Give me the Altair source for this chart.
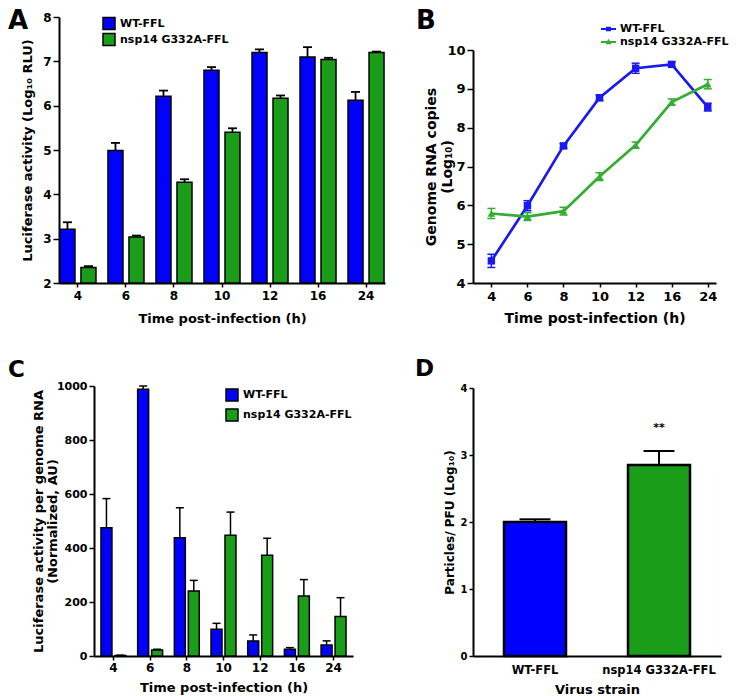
import altair as alt
import pandas as pd

FONT = "DejaVu Sans"
times = ["4", "6", "8", "10", "12", "16", "24"]
strains = ["WT-FFL", "nsp14 G332A-FFL"]

# Panel A: luciferase activity (log10 RLU), mean and SEM
a_wt = [3.21, 4.99, 6.21, 6.80, 7.20, 7.10, 6.12]
a_wt_err = [0.16, 0.17, 0.13, 0.07, 0.07, 0.22, 0.19]
a_mut = [2.35, 3.04, 4.27, 5.40, 6.17, 7.04, 7.20]
a_mut_err = [0.03, 0.03, 0.07, 0.09, 0.06, 0.04, 0.02]

# Panel B: genome RNA copies (log10)
b_wt = [4.57, 5.99, 7.53, 8.77, 9.53, 9.63, 8.53]
b_wt_err = [0.17, 0.13, 0.06, 0.07, 0.13, 0.06, 0.10]
b_mut = [5.79, 5.71, 5.85, 6.74, 7.55, 8.66, 9.12]
b_mut_err = [0.13, 0.10, 0.10, 0.10, 0.08, 0.08, 0.12]

# Panel C: luciferase activity per genome RNA (AU)
c_wt = [475, 988, 438, 99, 56, 25, 41]
c_wt_err = [108, 12, 111, 22, 22, 6, 15]
c_mut = [2, 22, 241, 447, 373, 222, 146]
c_mut_err = [1, 3, 39, 86, 63, 61, 70]

# Panel D: particles / PFU (log10)
d_val = [2.00, 2.85]
d_err = [0.04, 0.21]
sig_strain = ["nsp14 G332A-FFL"]
sig_y = [3.41]
sig_text = ["**"]

BLUE = "#0000FF"
GREEN = "#1A9E1A"
B_BLUE = "#1A1AF0"
B_GREEN = "#33AD33"


def long_df(wt, wt_err, mut, mut_err):
    rows = []
    for s, vals, errs in ((strains[0], wt, wt_err), (strains[1], mut, mut_err)):
        for t, v, e in zip(times, vals, errs):
            rows.append({"time": t, "strain": s, "value": v,
                         "upper": v + e, "lower": v - e})
    return pd.DataFrame(rows)


def letter(txt, size, dx, offset):
    return alt.TitleParams(text=txt, anchor="start", frame="group", fontSize=size,
                           font=FONT, fontWeight="bold", color="black", dx=dx,
                           offset=offset, baseline="alphabetic")


def bar_legend(x, y, size, row_pad):
    return alt.Legend(title=None, orient="none", legendX=x, legendY=y,
                      symbolType="square", symbolSize=144, symbolStrokeColor="black",
                      symbolStrokeWidth=1.5, symbolOpacity=1, labelFontSize=size,
                      labelFont=FONT, labelFontWeight="bold", labelColor="black",
                      labelOffset=4, rowPadding=row_pad, padding=0)


# ---------------- Panel A ----------------
dfA = long_df(a_wt, a_wt_err, a_mut, a_mut_err)
xA = alt.X("time:N", sort=times,
           scale=alt.Scale(paddingInner=0.25, paddingOuter=0.02),
           axis=alt.Axis(title="Time post-infection (h)", labelAngle=0, labelFontSize=12,
                         titleFontSize=13, tickSize=4, labelPadding=3, titlePadding=11,
                         grid=False))
xoA = alt.XOffset("strain:N", sort=strains,
                  scale=alt.Scale(paddingInner=0.286, paddingOuter=0))
yA = alt.Y("value:Q", scale=alt.Scale(domain=[2, 8], nice=False, zero=False),
           axis=alt.Axis(title="Luciferase activity (Log₁₀ RLU)", values=[2, 3, 4, 5, 6, 7, 8],
                         labelFontSize=12, titleFontSize=13, tickSize=6, labelPadding=2,
                         titlePadding=8, grid=False, format="d"))
colA = alt.Color("strain:N", sort=strains,
                 scale=alt.Scale(domain=strains, range=[BLUE, GREEN]),
                 legend=bar_legend(43, -0.5, 11, -2))
baseA = alt.Chart(dfA)
panelA = alt.layer(
    baseA.mark_bar(stroke="black", strokeWidth=1.5, opacity=1).encode(
        x=xA, xOffset=xoA, y=yA, y2=alt.datum(2), color=colA),
    baseA.mark_rule(color="black", strokeWidth=1.8).encode(
        x=xA, xOffset=xoA, y="value:Q", y2="upper:Q"),
    baseA.mark_tick(color="black", thickness=1.8, size=9, opacity=1).encode(
        x=xA, xOffset=xoA, y="upper:Q"),
).properties(width=326, height=266, title=letter("A", 26, -51, -44))

# ---------------- Panel B ----------------
dfB = long_df(b_wt, b_wt_err, b_mut, b_mut_err)
xB = alt.X("time:N", sort=times,
           scale=alt.Scale(type="point", padding=0.369, align=0.69),
           axis=alt.Axis(title="Time post-infection (h)", labelAngle=0, labelFontSize=13,
                         titleFontSize=14, tickSize=4, labelPadding=3, titlePadding=8,
                         grid=False))
yB = alt.Y("value:Q", scale=alt.Scale(domain=[4, 10], range=[266, 33], nice=False, zero=False),
           axis=alt.Axis(title=["Genome RNA copies", "(Log₁₀)"], values=[4, 5, 6, 7, 8, 9, 10],
                         labelFontSize=13, titleFontSize=14, tickSize=6, labelPadding=2,
                         titleX=-35, titleLineHeight=16, grid=False, format="d"))
colB = alt.Color("strain:N", sort=strains,
                 scale=alt.Scale(domain=strains, range=[B_BLUE, B_GREEN]), legend=None)
PATH_SQ = "M-1,-0.12L1,-0.12L1,0.12L-1,0.12Z M-0.33,-0.3L0.33,-0.3L0.33,0.3L-0.33,0.3Z"
PATH_TRI = "M-1,-0.12L1,-0.12L1,0.12L-1,0.12Z M0,-0.42L0.4,0.3L-0.4,0.3Z"
legB = alt.Legend(title=None, orient="none", legendX=128, legendY=4.5, symbolSize=225,
                  symbolStrokeWidth=0, labelFontSize=11, labelFont=FONT,
                  labelFontWeight="bold", labelColor="black", labelOffset=4,
                  rowPadding=0, padding=0)
baseB = alt.Chart(dfB)
panelB = alt.layer(
    baseB.mark_line(strokeWidth=2.7).encode(x=xB, y=yB, color=colB),
    baseB.mark_rule(strokeWidth=1.5).encode(x=xB, y="lower:Q", y2="upper:Q", color=colB),
    baseB.mark_tick(thickness=1.5, size=8, opacity=1).encode(x=xB, y="lower:Q", color=colB),
    baseB.mark_tick(thickness=1.5, size=8, opacity=1).encode(x=xB, y="upper:Q", color=colB),
    baseB.mark_point(shape="square", filled=True, size=55, opacity=1).encode(
        x=xB, y="value:Q", color=colB).transform_filter(alt.datum.strain == strains[0]),
    baseB.mark_point(shape="triangle-up", filled=True, size=60, opacity=1).encode(
        x=xB, y="value:Q", color=colB).transform_filter(alt.datum.strain == strains[1]),
    baseB.mark_point(filled=True, opacity=1, size=0).encode(
        x=xB, y="value:Q",
        color=alt.Color("strain:N", sort=strains,
                        scale=alt.Scale(domain=strains, range=[B_BLUE, B_GREEN]), legend=legB),
        shape=alt.Shape("strain:N", sort=strains,
                        scale=alt.Scale(domain=strains, range=[PATH_SQ, PATH_TRI]), legend=legB),
    ),
).resolve_scale(color="independent", shape="independent").properties(
    width=243, height=266, title=letter("B", 26, -57, -38))

# ---------------- Panel C ----------------
dfC = long_df(c_wt, c_wt_err, c_mut, c_mut_err)
xC = alt.X("time:N", sort=times,
           scale=alt.Scale(range=[35, 294], paddingInner=0.32, paddingOuter=0.19),
           axis=alt.Axis(title="Time post-infection (h)", labelAngle=0, labelFontSize=12,
                         titleFontSize=13, tickSize=4, labelPadding=2, titlePadding=8,
                         grid=False))
xoC = alt.XOffset("strain:N", sort=strains,
                  scale=alt.Scale(paddingInner=0.214, paddingOuter=0))
yC = alt.Y("value:Q", scale=alt.Scale(domain=[0, 1000], nice=False),
           axis=alt.Axis(title=["Luciferase activity per genome RNA", "(Normalized, AU)"],
                         values=[0, 200, 400, 600, 800, 1000], offset=-35, format="d",
                         labelFontSize=11, titleFontSize=13, tickSize=5, labelPadding=2,
                         titlePadding=-3, titleLineHeight=14, grid=False))
colC = alt.Color("strain:N", sort=strains,
                 scale=alt.Scale(domain=strains, range=[BLUE, GREEN]),
                 legend=bar_legend(166, 2, 11, 2))
baseC = alt.Chart(dfC)
panelC = alt.layer(
    baseC.mark_bar(stroke="black", strokeWidth=1.5, opacity=1).encode(
        x=xC, xOffset=xoC, y=yC, color=colC),
    baseC.mark_rule(color="black", strokeWidth=1.5).encode(
        x=xC, xOffset=xoC, y="value:Q", y2="upper:Q"),
    baseC.mark_tick(color="black", thickness=1.5, size=8, opacity=1).encode(
        x=xC, xOffset=xoC, y="upper:Q"),
).properties(width=294, height=270, title=letter("C", 23, -51, -20))

# ---------------- Panel D ----------------
dfD = pd.DataFrame({"strain": strains, "value": d_val,
                    "upper": [v + e for v, e in zip(d_val, d_err)]})
dfS = pd.DataFrame({"strain": sig_strain, "y": sig_y, "text": sig_text})
xD = alt.X("strain:N", sort=strains,
           scale=alt.Scale(paddingInner=0.5, paddingOuter=0.25),
           axis=alt.Axis(title="Virus strain", labelAngle=0, labelFontSize=11.5,
                         titleFontSize=13, ticks=False, labelPadding=8, titlePadding=8,
                         grid=False))
yD = alt.Y("value:Q", scale=alt.Scale(domain=[0, 4], range=[270, 2], nice=False),
           axis=alt.Axis(title="Particles/ PFU (Log₁₀)", values=[0, 1, 2, 3, 4], format="d",
                         labelFontSize=10, titleFontSize=12, tickSize=4, labelPadding=2,
                         titlePadding=4, grid=False))
colD = alt.Color("strain:N", sort=strains,
                 scale=alt.Scale(domain=strains, range=[BLUE, GREEN]), legend=None)
baseD = alt.Chart(dfD)
panelD = alt.layer(
    baseD.mark_bar(stroke="black", strokeWidth=2.5, opacity=1).encode(x=xD, y=yD, color=colD),
    baseD.mark_rule(color="black", strokeWidth=2).encode(x=xD, y="value:Q", y2="upper:Q"),
    baseD.mark_tick(color="black", thickness=2, size=31, opacity=1).encode(x=xD, y="upper:Q"),
    alt.Chart(dfS).mark_text(fontSize=11, fontWeight="bold", font=FONT, color="black",
                             baseline="middle").encode(x=xD, y="y:Q", text="text:N"),
).properties(width=248, height=270, title=letter("D", 23, -58, -16))

chart = alt.concat(panelA, panelB, panelC, panelD, columns=2,
                   spacing=alt.RowColnumber(row=33, column=30), align="each", bounds="full")
chart = chart.resolve_scale(color="independent", shape="independent",
                            x="independent", y="independent", xOffset="independent")
chart = chart.properties(padding=0).configure(
    font=FONT).configure_view(stroke=None).configure_axis(
    domainColor="black", domainWidth=2, tickColor="black", tickWidth=1.5,
    labelColor="black", titleColor="black", labelFont=FONT, titleFont=FONT,
    labelFontWeight="bold", titleFontWeight="bold", grid=False)

chart.save("out.html", embed_options={"renderer": "svg", "actions": False})
